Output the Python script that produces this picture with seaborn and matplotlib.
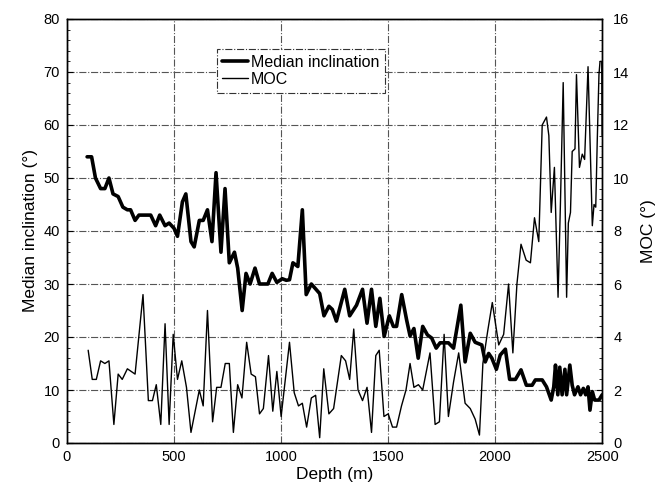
import matplotlib
matplotlib.use("Agg")
import pandas as pd
import seaborn as sns
import matplotlib.pyplot as plt
from matplotlib.ticker import MultipleLocator
from matplotlib.lines import Line2D

# median inclination (thick line, left axis)
depth_inc = [95, 116, 134, 158, 178, 197, 216, 240, 262, 283, 298, 319, 337, 392, 415,
             434, 459, 478, 501, 517, 540, 556, 580, 595, 619, 637, 657, 678, 697, 720,
             739, 759, 783, 798, 819, 837, 856, 879, 900, 939, 959, 981, 1006, 1025, 1040,
             1056, 1079, 1100, 1118, 1142, 1181, 1201, 1224, 1240, 1259, 1298, 1321, 1353,
             1381, 1402, 1423, 1443, 1462, 1482, 1506, 1525, 1540, 1564, 1587, 1603, 1621,
             1641, 1662, 1684, 1704, 1725, 1743, 1782, 1806, 1840, 1860, 1884, 1907, 1938,
             1954, 1970, 1985, 2006, 2024, 2048, 2068, 2095, 2121, 2146, 2173, 2188, 2220,
             2240, 2262, 2274, 2282, 2293, 2302, 2313, 2326, 2334, 2349, 2360, 2371, 2387,
             2399, 2412, 2423, 2434, 2443, 2454, 2465, 2485, 2500]
median_inc = [54, 54, 50, 48, 48, 50, 47, 46.5, 44.5, 44, 44, 42, 43, 43, 41,
              43, 41, 41.5, 40.5, 39, 45.5, 47, 38, 37, 42, 42, 44, 38, 51, 36,
              48, 34, 36, 33, 25, 32, 30, 33, 30, 30, 32, 30.3, 31, 30.7, 30.8,
              34, 33.3, 44, 28, 30, 28.2, 24, 25.8, 25.2, 23, 29, 24, 26,
              29, 22.6, 29, 22, 27.3, 20.1, 24, 22, 22, 28, 23.2, 20.2, 21.6,
              16, 22, 20.4, 19.8, 17.9, 18.9, 18.9, 17.9, 26, 15.3, 20.7, 19, 18.5,
              15.3, 16.9, 16, 13.9, 16.6, 17.7, 12, 12, 13.8, 10.9, 10.9, 11.9, 11.9,
              10.6, 8.1, 10.6, 14.7, 9.1, 14.3, 9.1, 13.9, 9.1, 14.7, 10.9, 9.1, 10.6,
              9.1, 10.3, 9.1, 10.6, 6.2, 9.7, 8.1, 8.1, 9.1]

# MOC (thin line, right axis)
depth_moc = [100, 119, 138, 158, 178, 197, 220, 240, 259, 283, 319, 356, 381, 400, 418,
             439, 459, 478, 497, 517, 537, 559, 580, 619, 637, 657, 681, 700, 720, 740,
             759, 778, 798, 818, 840, 861, 881, 900, 918, 942, 962, 981, 1001, 1040, 1062,
             1082, 1100, 1120, 1142, 1162, 1181, 1200, 1224, 1246, 1282, 1302, 1321, 1340,
             1360, 1381, 1402, 1423, 1443, 1459, 1481, 1501, 1521, 1540, 1563, 1584, 1603,
             1621, 1642, 1662, 1696, 1720, 1740, 1762, 1782, 1806, 1830, 1860, 1884, 1907,
             1927, 1943, 1965, 1987, 2017, 2040, 2063, 2083, 2102, 2121, 2145, 2165, 2184,
             2204, 2220, 2240, 2251, 2262, 2277, 2294, 2305, 2318, 2334, 2342, 2352, 2360,
             2373, 2380, 2394, 2407, 2418, 2434, 2454, 2462, 2470, 2477, 2485, 2490, 2498, 2500]
moc = [3.5, 2.4, 2.4, 3.1, 3.0, 3.1, 0.7, 2.6, 2.4, 2.8, 2.6, 5.6, 1.6, 1.6, 2.2,
       0.7, 4.5, 0.7, 4.1, 2.4, 3.1, 2.1, 0.4, 2.0, 1.4, 5.0, 0.8, 2.1, 2.1, 3.0,
       3.0, 0.4, 2.2, 1.7, 3.8, 2.6, 2.5, 1.1, 1.3, 3.3, 1.2, 2.7, 1.0, 3.8, 1.9,
       1.4, 1.5, 0.6, 1.7, 1.8, 0.2, 2.8, 1.1, 1.3, 3.3, 3.1, 2.4, 4.3,
       2.0, 1.6, 2.1, 0.4, 3.3, 3.5, 1.0, 1.1, 0.6, 0.6, 1.4, 2.0, 3.0,
       2.1, 2.2, 2.0, 3.4, 0.7, 0.8, 4.1, 1.0, 2.3, 3.4, 1.5, 1.3, 0.9,
       0.3, 3.0, 4.2, 5.3, 3.7, 4.1, 6.0, 3.4, 6.0, 7.5, 6.9, 6.8, 8.5,
       7.6, 12.0, 12.3, 11.6, 8.7, 10.4, 5.5, 9.0, 13.6, 5.5, 8.3, 8.7, 11.0,
       11.1, 13.9, 10.4, 10.9, 10.7, 14.2, 8.2, 9.0, 8.9, 11.4, 13.9, 14.4, 14.4, 11.6]

df_inc = pd.DataFrame({"depth": depth_inc, "inc": median_inc})
df_moc = pd.DataFrame({"depth": depth_moc, "moc": moc})

sns.set_style("white")
plt.rcParams["font.family"] = ["Liberation Sans", "DejaVu Sans"]

fig = plt.figure(figsize=(6.61, 5.0), dpi=100)
ax = fig.add_axes([0.101, 0.114, 0.810, 0.848])
ax2 = ax.twinx()

sns.lineplot(data=df_inc, x="depth", y="inc", ax=ax, color="black", linewidth=2.6, sort=False)
sns.lineplot(data=df_moc, x="depth", y="moc", ax=ax2, color="black", linewidth=1.0, sort=False)

ax.set_xlim(0, 2500)
ax.set_ylim(0, 80)
ax2.set_ylim(0, 16)

ax.xaxis.set_major_locator(MultipleLocator(500))
ax.yaxis.set_major_locator(MultipleLocator(10))
ax.yaxis.set_minor_locator(MultipleLocator(2))
ax2.yaxis.set_major_locator(MultipleLocator(2))
ax2.yaxis.set_minor_locator(MultipleLocator(0.4))

ax.grid(True, which="major", color="#555555", linestyle="-.", linewidth=0.8)
ax.set_axisbelow(True)

for a in (ax, ax2):
    for s in a.spines.values():
        s.set_color("black")
        s.set_linewidth(1.0)
    a.tick_params(axis="both", which="major", direction="in", length=4, width=0.8,
                  labelsize=10.5, colors="black")
    a.tick_params(axis="y", which="minor", direction="in", length=2.5, width=0.7)
ax.tick_params(axis="x", pad=5)
ax.tick_params(axis="y", pad=5)
ax2.tick_params(axis="y", pad=8)

ax.set_xlabel("Depth (m)", fontsize=12.5, labelpad=2, color="black")
ax.set_ylabel("Median inclination (\u00b0)", fontsize=12.5, labelpad=4, color="black")
ax2.set_ylabel("MOC (\u00b0)", fontsize=12.5, labelpad=8, color="black")

handles = [Line2D([], [], color="black", linewidth=2.6),
           Line2D([], [], color="black", linewidth=1.0)]
leg = ax2.legend(handles, ["Median inclination", "MOC"], loc="upper center",
                 bbox_to_anchor=(0.437, 0.948), fontsize=11.5, handlelength=1.6,
                 handletextpad=0.2, labelspacing=0.15, borderpad=0.35,
                 frameon=True, fancybox=False, framealpha=1)
leg.get_frame().set_edgecolor("#333333")
leg.get_frame().set_linestyle("-.")
leg.get_frame().set_linewidth(0.8)
for t in leg.get_texts():
    t.set_color("black")

fig.savefig("out.png", dpi=100)
